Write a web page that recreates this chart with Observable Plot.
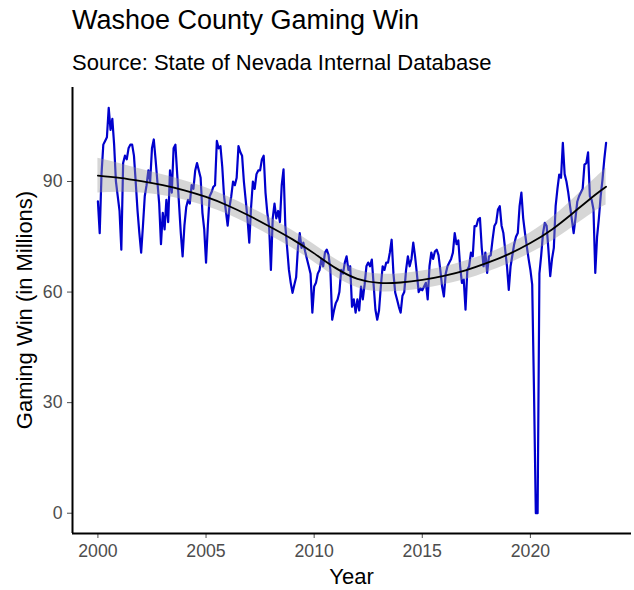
<!DOCTYPE html>
<html><head><meta charset="utf-8">
<script src="https://cdn.jsdelivr.net/npm/d3@7"></script>
<script src="https://cdn.jsdelivr.net/npm/@observablehq/plot@0.6"></script>
<style>
body{margin:0;background:#fff;}
#wrap{position:relative;width:634px;height:590px;font-family:"Liberation Sans",Arial,sans-serif;overflow:hidden;}
#wrap svg{position:absolute;left:0;top:0;}
.t{position:absolute;white-space:nowrap;line-height:1;color:#000;}
</style></head><body><div id="wrap"></div>
<script>
// Monthly gaming win (millions), Jan 2000 .. Jul 2023
const startYear = 2000;
const win2000 = [84.6, 76, 92, 100, 101, 102, 110, 104, 107, 100, 90, 86];
const win2001 = [82, 71.5, 95, 97, 96, 99, 100, 100, 97, 89.7, 82, 76];
const win2002 = [70.7, 78, 86, 89, 93, 90, 99, 101.4, 96, 90, 84, 73];
const win2003 = [81.5, 77, 85, 79, 93, 87, 99, 100, 92, 84, 76, 69.7];
const win2004 = [78, 83, 85, 84, 89, 88, 93, 95, 93, 91, 81.5, 77];
const win2005 = [68, 78, 86, 87, 88.5, 89, 101, 99, 99.6, 94, 86, 82];
const win2006 = [78, 83, 86, 90, 89, 91, 99.6, 98, 97, 90, 85, 80];
const win2007 = [73.4, 83, 90, 88, 92, 93, 93, 96, 97, 87, 81.5, 78];
const win2008 = [66, 80, 84, 80, 82, 79, 89, 93.3, 78, 72, 66, 62.5];
const win2009 = [59.8, 62, 64, 72, 76, 72, 73.4, 71, 69, 67, 65, 54.4];
const win2010 = [61.5, 62.5, 65, 66, 69, 67, 70.7, 71.5, 70, 66, 52.5, 55];
const win2011 = [57, 58, 60, 66, 65, 68, 69.7, 66, 67, 56, 58, 54.4];
const win2012 = [58, 55, 61.5, 58, 62, 67, 68, 67, 68.8, 62, 55.2, 52.5];
const win2013 = [55, 61.5, 67, 66, 68, 68, 70.7, 74.2, 65, 59.8, 58, 56];
const win2014 = [54.4, 59, 60, 66, 69.7, 67, 69, 73.4, 69.7, 65, 60, 61];
const win2015 = [60.5, 61.5, 62.5, 58, 67, 70.7, 69, 71, 71.5, 70, 66, 61.5];
const win2016 = [58.8, 65, 67, 68, 69, 70.7, 76, 73, 74, 67, 62.5, 63.4];
const win2017 = [55.2, 66, 67, 70.7, 69.7, 77.9, 77.9, 79.7, 80.1, 72, 67, 70.7];
const win2018 = [65.2, 69.7, 70, 74.2, 77.9, 78.8, 82.4, 83.3, 78, 76, 71.5, 67];
const win2019 = [60.6, 67, 70, 73, 75, 76, 83.3, 87, 80, 76, 72.4, 69];
const win2020 = [66, 62, 33, 0, 0, 65, 70, 76, 78.8, 78, 71.5, 64.3];
const win2021 = [69, 72, 83.3, 88, 91.9, 91, 100.5, 92, 90, 87, 83.3, 79.7];
const win2022 = [76, 80, 84.5, 86, 87, 88, 94.6, 95, 97.9, 86, 85, 82.4];
const win2023 = [65.2, 75, 80, 86, 90.5, 96, 100.5];

// Loess smooth: fit and CI half-width
const smoothYears = [2000, 2001, 2002, 2003, 2004, 2005, 2006, 2007, 2008, 2009, 2010, 2011, 2012, 2013, 2014, 2015, 2016, 2017, 2018, 2019, 2020, 2021, 2022, 2023, 2023.5];
const smoothFit = [91.6, 91.0, 90.1, 89.0, 87.6, 85.8, 83.5, 80.7, 77.6, 74.3, 70.5, 66.5, 63.6, 62.5, 62.6, 63.3, 64.4, 65.9, 67.9, 70.3, 73.3, 77.0, 81.6, 86.4, 88.6];
const smoothCI = [4.7, 3.9, 3.2, 2.8, 2.6, 2.5, 2.4, 2.4, 2.4, 2.4, 2.4, 2.4, 2.4, 2.4, 2.4, 2.4, 2.4, 2.5, 2.5, 2.6, 2.8, 3.2, 3.8, 4.5, 5.0];

const xTicks = [2000, 2005, 2010, 2015, 2020];
const yTicks = [0, 30, 60, 90];

const allWin = [win2000, win2001, win2002, win2003, win2004, win2005, win2006, win2007, win2008, win2009, win2010, win2011, win2012, win2013, win2014, win2015, win2016, win2017, win2018, win2019, win2020, win2021, win2022, win2023];
const series = [];
allWin.forEach((arr, yi) => arr.forEach((v, mi) => series.push({x: startYear + yi + mi / 12, y: v})));
const smooth = smoothYears.map((x, i) => ({x, fit: smoothFit[i], lo: smoothFit[i] - smoothCI[i], hi: smoothFit[i] + smoothCI[i]}));

const xDomain = [1998.825, 2024.675];
const yDomain = [-5.5, 115.5];
const font = '"Liberation Sans", Arial, sans-serif';

const chart = Plot.plot({
  width: 634, height: 590,
  marginTop: 87, marginBottom: 57, marginLeft: 72, marginRight: 3,
  style: {fontFamily: font, background: "transparent"},
  x: {domain: xDomain},
  y: {domain: yDomain},
  marks: [
    Plot.axisX({ticks: xTicks, tickFormat: d => String(d), tickSize: 5, tickPadding: 6, fontSize: 17.7, color: "#4d4d4d", label: null}),
    Plot.axisY({ticks: yTicks, tickFormat: d => String(d), tickSize: 5, tickPadding: 5, fontSize: 17.7, color: "#4d4d4d", label: null}),
    Plot.lineY(series, {x: "x", y: "y", stroke: "#0000cd", strokeWidth: 2.2}),
    Plot.areaY(smooth, {x: "x", y1: "lo", y2: "hi", fill: "#999999", fillOpacity: 0.4, curve: "natural"}),
    Plot.lineY(smooth, {x: "x", y: "fit", stroke: "#000", strokeWidth: 1.8, curve: "natural"}),
    Plot.ruleX([xDomain[0]], {stroke: "#000", strokeWidth: 2}),
    Plot.ruleY([yDomain[0]], {stroke: "#000", strokeWidth: 2})
  ]
});
const wrap = document.getElementById("wrap");
wrap.appendChild(chart);

function addText(txt, css) {
  const d = document.createElement("div");
  d.className = "t";
  d.textContent = txt;
  Object.assign(d.style, css);
  wrap.appendChild(d);
}
addText("Washoe County Gaming Win", {left: "72px", top: "7px", fontSize: "27px"});
addText("Source: State of Nevada Internal Database", {left: "72px", top: "52px", fontSize: "22px"});
addText("Year", {left: "351.5px", top: "566px", fontSize: "22px", transform: "translateX(-50%)"});
addText("Gaming Win (in Millions)", {left: "25px", top: "310px", fontSize: "22px", transform: "translate(-50%,-50%) rotate(-90deg)"});
</script></body></html>
